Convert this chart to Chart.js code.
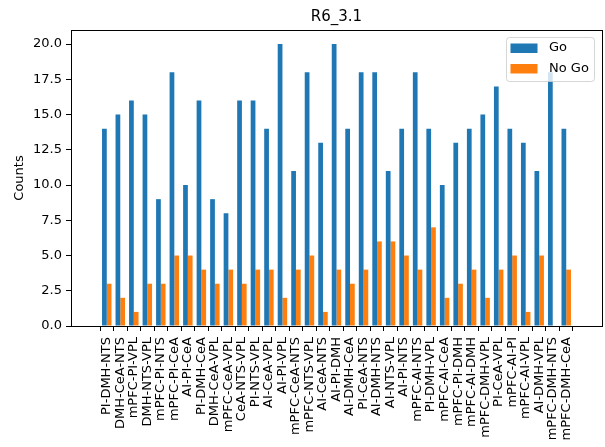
<!DOCTYPE html>
<html>
<head>
<meta charset="utf-8">
<script src="https://cdn.jsdelivr.net/npm/chart.js@4"></script>
<style>
  html, body { margin: 0; padding: 0; background: #fff; }
  #wrap { width: 605px; height: 447px; }
</style>
</head>
<body>
<div id="wrap"><canvas id="chart" width="605" height="447"></canvas></div>
<script>
// Data
const comboLabels = [
    'PI-DMH-NTS', 'DMH-CeA-NTS', 'mPFC-PI-VPL', 'DMH-NTS-VPL', 'mPFC-PI-NTS',
    'mPFC-PI-CeA', 'AI-PI-CeA', 'PI-DMH-CeA', 'DMH-CeA-VPL', 'mPFC-CeA-VPL',
    'CeA-NTS-VPL', 'PI-NTS-VPL', 'AI-CeA-VPL', 'AI-PI-VPL', 'mPFC-CeA-NTS',
    'mPFC-NTS-VPL', 'AI-CeA-NTS', 'AI-PI-DMH', 'AI-DMH-CeA', 'PI-CeA-NTS',
    'AI-DMH-NTS', 'AI-NTS-VPL', 'AI-PI-NTS', 'mPFC-AI-NTS', 'PI-DMH-VPL',
    'mPFC-AI-CeA', 'mPFC-PI-DMH', 'mPFC-AI-DMH', 'mPFC-DMH-VPL', 'PI-CeA-VPL',
    'mPFC-AI-PI', 'mPFC-AI-VPL', 'AI-DMH-VPL', 'mPFC-DMH-NTS', 'mPFC-DMH-CeA'
];
const goCounts = [14, 15, 16, 15, 9, 18, 10, 16, 9, 8, 16, 16, 14, 20, 11, 18, 13, 20, 14, 18,
                  18, 11, 14, 18, 14, 10, 13, 14, 15, 17, 14, 13, 11, 18, 14];
const noGoCounts = [3, 2, 1, 3, 3, 5, 5, 4, 3, 4, 3, 4, 4, 2, 4, 5, 1, 4, 3, 4,
                    6, 6, 5, 4, 7, 2, 3, 4, 2, 4, 5, 1, 5, 0, 4];
const yTickValues = [0, 2.5, 5, 7.5, 10, 12.5, 15, 17.5, 20];
const seriesNames = ['Go', 'No Go'];

const BLUE = '#1f77b4';
const ORANGE = '#ff7f0e';
const FONT = 'DejaVu Sans';

Chart.defaults.color = '#000';
Chart.defaults.font.family = FONT;

// frame round the plot area (matplotlib spines)
const framePlugin = {
    id: 'frame',
    afterDraw(chart) {
        const { ctx, chartArea: a } = chart;
        ctx.save();
        ctx.strokeStyle = '#000';
        ctx.lineWidth = 1;
        ctx.strokeRect(Math.round(a.left) + 0.5, Math.round(a.top) + 0.5,
                       Math.round(a.right - a.left), Math.round(a.bottom - a.top));
        ctx.restore();
    }
};

// legend box in upper right, drawn over the bars
const legendPlugin = {
    id: 'mplLegend',
    afterDatasetsDraw(chart) {
        const { ctx, chartArea: a } = chart;
        const w = 88, h = 44;
        const x = a.right - 8 - w, y = a.top + 7;
        ctx.save();
        ctx.beginPath();
        if (ctx.roundRect) ctx.roundRect(x + 0.5, y + 0.5, w, h, 3);
        else ctx.rect(x + 0.5, y + 0.5, w, h);
        ctx.fillStyle = 'rgba(255,255,255,0.8)';
        ctx.fill();
        ctx.strokeStyle = 'rgba(204,204,204,0.8)';
        ctx.lineWidth = 1;
        ctx.stroke();
        ctx.font = '13px "' + FONT + '"';
        ctx.textBaseline = 'middle';
        ctx.fillStyle = '#000';
        chart.data.datasets.forEach((ds, i) => {
            const rowY = y + 11 + i * 20.5;
            ctx.fillStyle = ds.backgroundColor;
            ctx.fillRect(x + 4.5, rowY - 4.5, 27, 9.5);
            ctx.fillStyle = '#000';
            ctx.fillText(ds.label, x + 43, rowY);
        });
        ctx.restore();
    }
};

const ctx = document.getElementById('chart').getContext('2d');
new Chart(ctx, {
    type: 'bar',
    data: {
        datasets: [
            {
                label: seriesNames[0],
                data: goCounts.map((v, i) => ({ x: i, y: v })),
                backgroundColor: BLUE,
                borderWidth: 0
            },
            {
                label: seriesNames[1],
                data: noGoCounts.map((v, i) => ({ x: i, y: v })),
                backgroundColor: ORANGE,
                borderWidth: 0
            }
        ]
    },
    options: {
        responsive: false,
        animation: false,
        devicePixelRatio: 1,
        categoryPercentage: 0.7,
        barPercentage: 1.0,
        layout: { padding: { left: 0, right: 3, top: 0, bottom: 0 } },
        plugins: {
            legend: { display: false },
            tooltip: { enabled: false },
            title: {
                display: true,
                text: 'R6_3.1',
                fullSize: false,
                font: { size: 15, weight: 'normal', family: FONT },
                color: '#000',
                padding: { top: 8, bottom: 4 }
            }
        },
        scales: {
            x: {
                type: 'linear',
                min: -2.085,
                max: 36.085,
                afterBuildTicks: s => { s.ticks = comboLabels.map((_, i) => ({ value: i })); },
                afterFit: s => { s.height = 121; },
                grid: { drawOnChartArea: false, tickLength: 5, tickColor: '#000', tickWidth: 1 },
                border: { color: '#000', width: 1 },
                ticks: {
                    autoSkip: false,
                    minRotation: 90,
                    maxRotation: 90,
                    padding: 6,
                    font: { size: 13, family: FONT },
                    color: '#000',
                    callback: v => comboLabels[v] ?? ''
                }
            },
            y: {
                min: 0,
                max: 21,
                afterBuildTicks: s => { s.ticks = yTickValues.map(v => ({ value: v })); },
                afterFit: s => { s.width = 71; },
                grid: { drawOnChartArea: false, tickLength: 5, tickColor: '#000', tickWidth: 1 },
                border: { color: '#000', width: 1 },
                ticks: {
                    padding: 4,
                    font: { size: 13, family: FONT },
                    color: '#000',
                    callback: v => Number(v).toFixed(1)
                },
                title: {
                    display: true,
                    text: 'Counts',
                    font: { size: 13, family: FONT },
                    color: '#000',
                    padding: { top: 12, bottom: 0 }
                }
            }
        }
    },
    plugins: [framePlugin, legendPlugin]
});
</script>
</body>
</html>
